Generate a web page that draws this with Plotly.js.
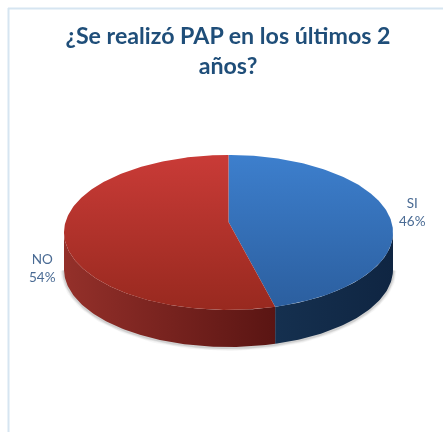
<!DOCTYPE html>
<html><head><meta charset="utf-8">
<script src="https://cdn.plot.ly/plotly-3.0.1.min.js"></script>
<style>html,body{margin:0;padding:0;background:#fff}#c{width:443px;height:432px;filter:blur(0.45px)}</style>
</head><body><div id="c"></div>
<script>
const categories = ['SI', 'NO'];
const seriesValues = [46, 54];
const titleText = '¿Se realizó PAP en los últimos 2<br>años?';
const topGradients = [['#3d7fcd', '#2b5e9e'], ['#c93b37', '#98291f']];
const sideGradients = [['#0f2542', '#15304f'], ['#5a1513', '#94302a']];

// Projection of the tilted disc on the pixel-sized axes
const cx = 228.5, apexY = 222, a = 163, b = 76.1, p = 0.135, depth = 37;
function proj(deg, drop) {
  const t = deg * Math.PI / 180, u = Math.sin(t), v = -Math.cos(t), w = 1 - p * v;
  return [cx + a * u / w, apexY + b * v / w + (drop || 0), v];
}
const total = seriesValues.reduce((s, v) => s + v, 0);
const traces = [];
function arc(from, to) {
  const pts = [];
  for (let d = from; d < to; d += 1) pts.push(proj(d));
  pts.push(proj(to));
  return pts;
}
const base = {type: 'scatter', mode: 'lines', hoverinfo: 'skip', showlegend: false};
// soft shadow below the disc
const sorted = [];
for (let d = 0; d <= 360; d++) { const q = proj(d, depth); if (q[2] >= p) sorted.push(q); }
[[7, 0.05], [5, 0.08], [3, 0.14]].forEach(s => traces.push(Object.assign({}, base, {
  x: sorted.map(q => q[0]), y: sorted.map(q => q[1] + 0.5),
  line: {color: 'rgba(70,70,70,' + s[1] + ')', width: s[0]}
})));
// side walls, then top faces
let start = 0;
const tops = [];
seriesValues.forEach((val, i) => {
  const end = start + val / total * 360;
  const pts = arc(start, end);
  const front = pts.filter(q => q[2] >= p);
  const ring = front.concat(front.slice().reverse().map(q => [q[0], q[1] + depth, q[2]]));
  traces.push(Object.assign({}, base, {
    x: ring.map(q => q[0]), y: ring.map(q => q[1]), fill: 'toself', line: {width: 0},
    fillgradient: {type: 'horizontal',
      colorscale: i === 0 ? [[0, sideGradients[0][1]], [1, sideGradients[0][0]]]
                          : [[0, sideGradients[1][1]], [1, sideGradients[1][0]]]}
  }));
  tops.push(Object.assign({}, base, {
    x: [cx].concat(pts.map(q => q[0]), [cx]),
    y: [apexY].concat(pts.map(q => q[1]), [apexY]),
    fill: 'toself', line: {width: 0},
    fillgradient: {type: 'vertical', start: 155, stop: 310,
      colorscale: [[0, topGradients[i][0]], [1, topGradients[i][1]]]}
  }));
  start = end;
});
traces.push(...tops);

const labelFont = {family: 'Lato, Carlito, sans-serif', size: 13.5, color: '#4a6b94'};
const layout = {
  width: 443, height: 432, margin: {l: 0, r: 0, t: 0, b: 0},
  paper_bgcolor: '#fff', plot_bgcolor: '#fff', showlegend: false,
  title: {text: titleText, x: 228 / 443, xref: 'container', xanchor: 'center', y: 0.899, yref: 'container', yanchor: 'top',
          font: {family: 'Lato, Carlito, sans-serif', size: 23.2, weight: 700, color: '#1f4e79'}},
  xaxis: {range: [0, 443], visible: false, fixedrange: true},
  yaxis: {range: [432, 0], visible: false, fixedrange: true},
  shapes: [
    {type: 'line', x0: 8.5, x1: 8.5, y0: 8, y1: 432, line: {color: '#d6e5f1', width: 2}},
    {type: 'line', x0: 8, x1: 443, y0: 8.5, y1: 8.5, line: {color: '#d6e5f1', width: 2}}
  ],
  annotations: [
    {x: 412, y: 212, text: categories[0] + '<br>' + seriesValues[0] + '%', showarrow: false, font: labelFont, align: 'center', xanchor: 'center', yanchor: 'middle'},
    {x: 42, y: 268, text: categories[1] + '<br>' + seriesValues[1] + '%', showarrow: false, font: labelFont, align: 'center', xanchor: 'center', yanchor: 'middle'}
  ]
};
Plotly.newPlot('c', traces, layout, {displayModeBar: false, staticPlot: true});
</script></body></html>
